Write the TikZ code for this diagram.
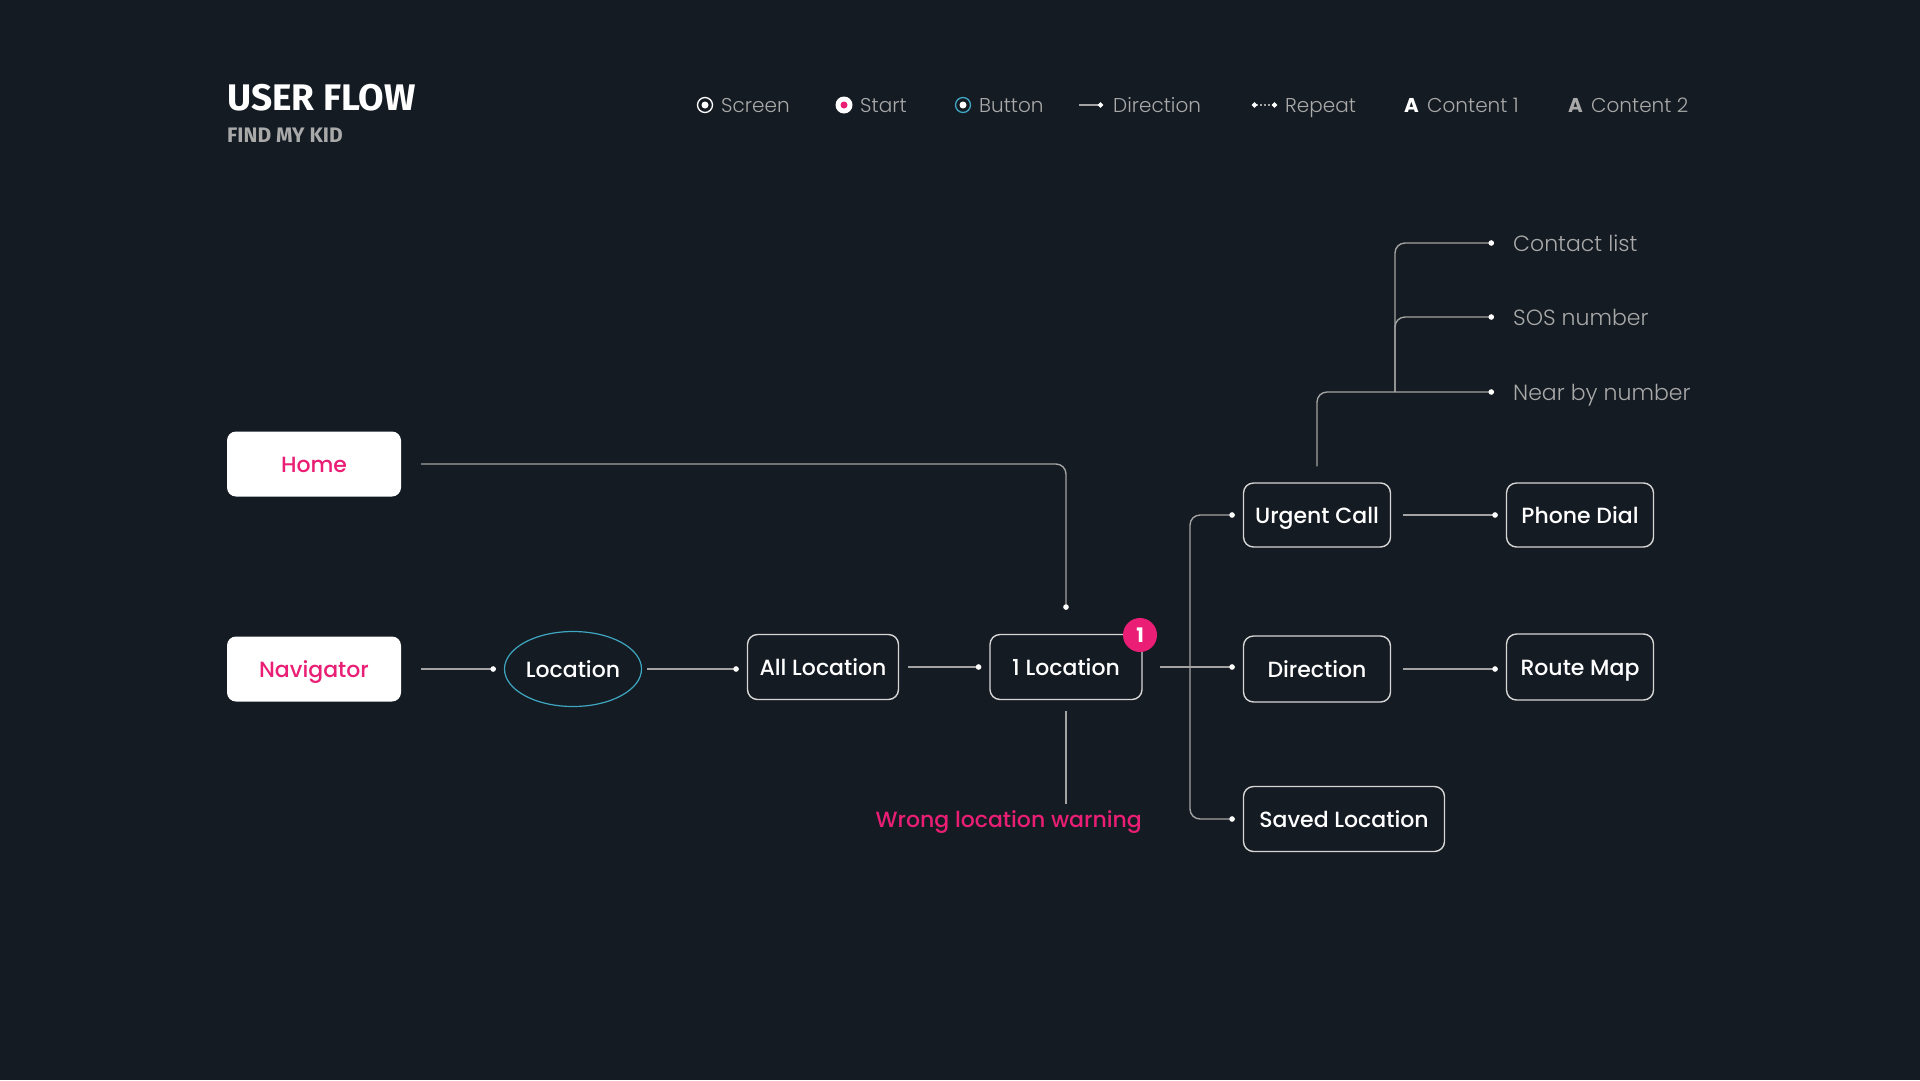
\documentclass[tikz,border=0pt]{standalone}
\usepackage{fontspec}
\setmainfont{Poppins}
\newfontfamily\medfont{Poppins Medium}
\newfontfamily\lightfont{Poppins Light}
\newfontfamily\titlefont{Fira Sans}
\usetikzlibrary{arrows.meta,shapes.geometric}
\definecolor{bg}{HTML}{141B22}
\definecolor{pinkc}{HTML}{E91E74}
\definecolor{tealc}{HTML}{3FA7C1}
\definecolor{linec}{HTML}{A3A3A3}
\definecolor{boxc}{HTML}{D6D6D6}
\definecolor{greytext}{HTML}{A9A9A9}
\tikzset{
  boxfont/.style={font=\medfont\fontsize{22}{26}\selectfont, text height=16pt, text depth=0pt},
  screenbox/.style={boxfont, draw=boxc, line width=1.4pt, rounded corners=10pt,
    minimum height=65pt, inner sep=0pt, text=white},
  startbox/.style={boxfont, fill=white, rounded corners=9pt, minimum width=174pt,
    minimum height=65pt, inner sep=0pt, text=pinkc},
  buttonshape/.style={boxfont, ellipse, draw=tealc, line width=1.2pt, minimum width=137pt,
    minimum height=75pt, inner sep=0pt, text=white},
  badge/.style={circle, fill=pinkc, minimum size=34pt, inner sep=0pt, text=white,
    font=\bfseries\fontsize{20}{24}\selectfont},
  sidetext/.style={anchor=west, inner xsep=11pt, inner ysep=0pt, text=greytext,
    text height=16pt, text depth=0pt, font=\lightfont\fontsize{22}{26}\selectfont},
  warntext/.style={inner sep=0pt, text=pinkc, font=\medfont\fontsize{22}{26}\selectfont},
  legendtext/.style={anchor=base west, inner sep=0pt, text=greytext,
    font=\lightfont\fontsize{20}{24}\selectfont},
  flow/.style={draw=linec, line width=1.4pt, -{Circle[length=5.5pt,color=white]},
    shorten <=12pt, shorten >=8pt},
  wire/.style={draw=linec, line width=1.4pt}
}
\begin{document}
\begin{tikzpicture}[x=1pt,y=-1pt]
  \fill[bg] (0,0) rectangle (1920,1080);
  \useasboundingbox (0,0) rectangle (1920,1080);

  \node[anchor=base west, inner sep=0pt, text=white,
    font=\titlefont\bfseries\fontsize{37}{40}\selectfont] (Title) at (227,110) {USER FLOW};
  \node[anchor=base west, inner sep=0pt, text=greytext,
    font=\titlefont\bfseries\fontsize{21}{24}\selectfont] (Sub) at (227,142) {FIND MY KID};

  \node[circle, draw=white, line width=1.3pt, minimum size=15pt, inner sep=0pt] (iScreen) at (705,105) {};
  \node[circle, fill=white, minimum size=7pt, inner sep=0pt] at (iScreen) {};
  \node[legendtext] (tScreen) at (721,112) {Screen};
  \node[circle, fill=white, minimum size=17pt, inner sep=0pt] (iStart) at (844,105) {};
  \node[circle, fill=pinkc, minimum size=7pt, inner sep=0pt] at (iStart) {};
  \node[legendtext] (tStart) at (860,112) {Start};
  \node[circle, draw=tealc, line width=1.3pt, minimum size=15pt, inner sep=0pt] (iButton) at (963,105) {};
  \node[circle, fill=white, minimum size=7pt, inner sep=0pt] at (iButton) {};
  \node[legendtext] (tButton) at (979,112) {Button};
  \draw[wire, -{Circle[length=5pt,color=white]}] (1079,105) -- (1103,105);
  \node[legendtext] (tDir) at (1113,112) {Direction};
  \draw[wire, dash pattern=on 2pt off 2pt, {Circle[length=5pt,color=white]}-{Circle[length=5pt,color=white]}] (1252,105) -- (1277,105);
  \node[legendtext] (tRepeat) at (1285,112) {Repeat};
  \node[legendtext, text=white, font=\bfseries\fontsize{20}{24}\selectfont] (aOne) at (1404,112) {A};
  \node[legendtext] (tOne) at (1427,112) {Content 1};
  \node[legendtext, font=\bfseries\fontsize{20}{24}\selectfont] (aTwo) at (1568,112) {A};
  \node[legendtext] (tTwo) at (1591,112) {Content 2};

  \node[startbox] (Home) at (314,464) {Home};
  \node[startbox] (Nav) at (314,669) {Navigator};
  \node[buttonshape] (Loc) at (573,669) {Location};
  \node[screenbox, minimum width=151pt] (AllLoc) at (823,667) {All Location};
  \node[screenbox, minimum width=152pt] (OneLoc) at (1066,667) {1 Location};
  \node[badge] (Badge) at (1140,635) {1};
  \node[warntext, anchor=base east] (Warn) at (1142,827) {Wrong location warning};
  \node[screenbox, minimum width=147pt, minimum height=64pt] (Urgent) at (1317,515) {Urgent Call};
  \node[screenbox, minimum width=147pt, minimum height=64pt] (Phone) at (1580,515) {Phone Dial};
  \node[screenbox, minimum width=147pt, minimum height=66pt] (Dir) at (1317,669) {Direction};
  \node[screenbox, minimum width=147pt, minimum height=66pt] (Route) at (1580,667) {Route Map};
  \node[screenbox, minimum width=201pt] (Saved) at (1344,819) {Saved Location};
  \node[sidetext] (Contact) at (1502,243) {Contact list};
  \node[sidetext] (Sos) at (1502,317) {SOS number};
  \node[sidetext] (Near) at (1502,392) {Near by number};
  \coordinate (Split) at (1190,667);
  \coordinate (Fork) at (1395,392);

  \draw[flow, rounded corners=10pt, shorten <=20pt, shorten >=24pt] (Home.east) -| (OneLoc.north);
  \draw[flow, shorten <=20pt] (Nav) -- (Loc);
  \draw[flow, shorten <=5pt] (Loc.east) -- (AllLoc.west |- Loc.east);
  \draw[flow, shorten <=9pt] (AllLoc) -- (OneLoc);
  \draw[wire, shorten <=11pt, shorten >=6pt] (OneLoc.south) -- (OneLoc.south |- Warn.north);
  \draw[flow, shorten <=17pt] (OneLoc.east) -- (Dir.west |- OneLoc.east);
  \draw[flow, rounded corners=10pt, shorten <=0pt] (Split) |- (Urgent.west);
  \draw[flow, rounded corners=10pt, shorten <=0pt] (Split) |- (Saved.west);
  \draw[flow] (Urgent) -- (Phone);
  \draw[flow] (Dir) -- (Dir -| Route.west);
  \draw[flow, rounded corners=10pt, shorten <=16pt] (Urgent.north) |- (Near.west);
  \draw[flow, rounded corners=10pt, shorten <=0pt] (Fork) |- (Contact.west);
  \draw[flow, rounded corners=10pt, shorten <=0pt] (Fork) |- (Sos.west);
\end{tikzpicture}
\end{document}
